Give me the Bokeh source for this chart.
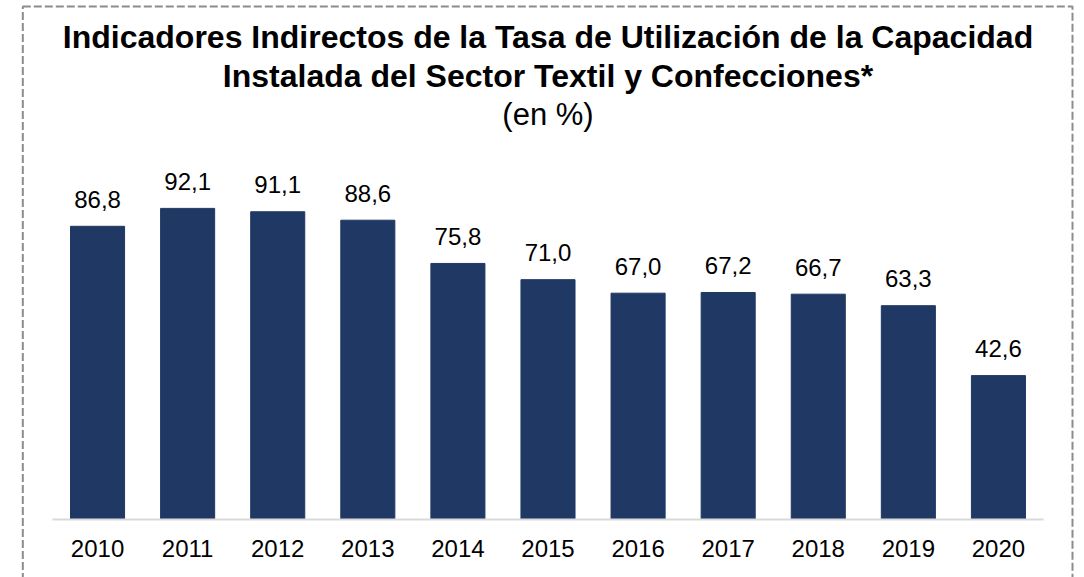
from bokeh.plotting import figure
from bokeh.models import ColumnDataSource, Range1d, BoxAnnotation, FixedTicker
from bokeh.core.properties import value
from bokeh.embed import file_html
from bokeh.resources import INLINE

years = ["2010", "2011", "2012", "2013", "2014", "2015", "2016", "2017", "2018", "2019", "2020"]
tasa = [86.8, 92.1, 91.1, 88.6, 75.8, 71.0, 67.0, 67.2, 66.7, 63.3, 42.6]
title_line1 = "Indicadores Indirectos de la Tasa de Utilización de la Capacidad"
title_line2 = "Instalada del Sector Textil y Confecciones*"
subtitle = "(en %)"

FONT = "Liberation Sans"
BAR = "#203864"

# layout (page pixels)
W, H = 1084, 577
BASE_PX = 519.0      # baseline of bars
LEFT_PX = 52.0       # left edge of first category slot
STEP = 90.09         # px per category
K = 3.378            # px per percentage point
SHIFT = 0.375        # baseline correction (em) for text glyphs

def xd(px):
    return (px - LEFT_PX) / STEP - 0.5

def yd(py):
    return (BASE_PX - py) / K

idx = list(range(len(years)))
labels = [f"{v:.1f}".replace(".", ",") for v in tasa]
src = ColumnDataSource(dict(x=idx, tasa=tasa, label=labels))

p = figure(
    width=W, height=H,
    x_range=Range1d(xd(0), xd(W)), y_range=Range1d(yd(H), yd(0)),
    output_backend="svg", toolbar_location=None,
    y_axis_location=None,
    min_border=0, min_border_left=0, min_border_right=0,
    min_border_top=0, min_border_bottom=0,
)
p.outline_line_color = None
p.xgrid.grid_line_color = None
p.ygrid.grid_line_color = None

p.vbar(x="x", top="tasa", width=0.6, source=src, fill_color=BAR, line_color=BAR)
p.text(x="x", y="tasa", text="label", source=src, text_align="center",
       text_baseline="alphabetic", y_offset=-27, text_font=value(FONT),
       text_font_size="24px", text_color="#000000")

# baseline under the bars
p.segment(x0=[-0.5], y0=[0], x1=[len(years) - 0.5], y1=[0],
          line_color="#D9D9D9", line_width=2)

ax = p.xaxis[0]
ax.fixed_location = 0
ax.ticker = FixedTicker(ticks=idx)
ax.major_label_overrides = {i: y for i, y in zip(idx, years)}
ax.axis_line_color = None
ax.major_tick_line_color = None
ax.minor_tick_line_color = None
ax.major_tick_out = 0
ax.major_tick_in = 0
ax.major_label_text_font = FONT
ax.major_label_text_font_size = "24px"
ax.major_label_text_color = "#000000"
ax.major_label_standoff = 20

# titles
cx = (len(years) - 1) / 2
def title_text(txt, base_px, fs, style):
    p.text(x=[cx], y=[yd(base_px - SHIFT * fs)], text=[txt], text_align="center",
           text_baseline="alphabetic", text_font=value(FONT), text_font_size=f"{fs}px",
           text_font_style=style, text_color="#000000")

title_text(title_line1, 48.3, 32, "bold")
title_text(title_line2, 87.3, 32, "bold")
title_text(subtitle, 125.2, 31, "normal")

border = BoxAnnotation(left=xd(22.3), right=xd(1072.0), top=yd(6.0), bottom=yd(800.0),
                       fill_alpha=0, fill_color=None, line_color="#8C8C8C", line_alpha=1.0,
                       line_width=2, line_dash="8 3", level="overlay")
p.add_layout(border)

open("out.html", "w").write(file_html(p, INLINE))
